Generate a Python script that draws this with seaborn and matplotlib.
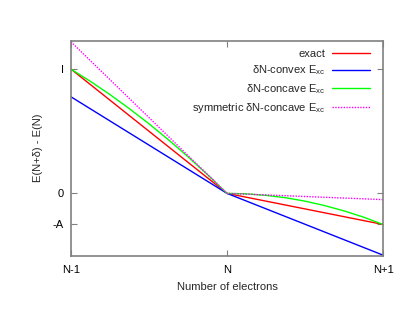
import matplotlib
matplotlib.use("Agg")
import matplotlib.pyplot as plt
import seaborn as sns
import pandas as pd

# data (x: -1 = N-1, 0 = N, 1 = N+1 ; y in units of I)
x_kink = [-1.0, 0.0, 1.0]
exact_y = [1.0, 0.0, -0.25]
convex_y = [0.777, 0.0, -0.497]
sym_concave_y = [1.22, 0.0, -0.05]
concave_x = [-1.0, -0.875, -0.75, -0.625, -0.5, -0.375, -0.25, -0.125, 0.0,
             0.125, 0.25, 0.375, 0.5, 0.625, 0.75, 0.875, 1.0]
concave_y = [1.0, 0.901, 0.795, 0.681, 0.56, 0.431, 0.295, 0.151, 0.0,
             -0.004, -0.016, -0.035, -0.0625, -0.098, -0.141, -0.191, -0.25]

xtick_vals = [-1, 0, 1]
xtick_labels = ["N-1", "N", "N+1"]
ytick_vals = [1.0, 0.0, -0.25]
ytick_labels = ["I", "0", "-A"]

labels = ["exact", "δN-convex E$_{xc}$", "δN-concave E$_{xc}$",
          "symmetric δN-concave E$_{xc}$"]

sns.set_style("white")
plt.rcParams["font.family"] = ["Liberation Sans", "DejaVu Sans"]
plt.rcParams["mathtext.default"] = "regular"
plt.rcParams["font.size"] = 8

fig = plt.figure(figsize=(4.15, 3.21), dpi=100)
ax = fig.add_axes([0.171, 0.204, 0.752, 0.669])

sns.lineplot(x=x_kink, y=exact_y, ax=ax, color="#ff0000", lw=1.0,
             label=labels[0], sort=False, estimator=None)
sns.lineplot(x=x_kink, y=convex_y, ax=ax, color="#0000ff", lw=1.0,
             label=labels[1], sort=False, estimator=None)
sns.lineplot(x=concave_x, y=concave_y, ax=ax, color="#00ff00", lw=1.0,
             label=labels[2], sort=False, estimator=None)
sns.lineplot(x=x_kink, y=sym_concave_y, ax=ax, color="#ff00ff", lw=1.0,
             linestyle=(0, (1, 1)), label=labels[3], sort=False, estimator=None)

ax.set_xlim(-1, 1)
ax.set_ylim(-0.5, 1.228)
ax.set_xticks(xtick_vals)
ax.set_xticklabels(xtick_labels)
ax.set_yticks(ytick_vals)
ax.set_yticklabels(ytick_labels)
ax.set_xlabel("Number of electrons", fontsize=8, labelpad=5)
ax.set_ylabel("E(N+δ) - E(N)", fontsize=8, labelpad=7)

for s in ax.spines.values():
    s.set_color("#808080")
    s.set_linewidth(1.2)
    s.set_visible(True)
ax.tick_params(direction="in", length=4, width=0.8, color="#808080",
               top=True, right=True, bottom=True, left=True,
               labelsize=8, labelcolor="black")
ax.tick_params(axis="x", pad=7)
ax.tick_params(axis="y", pad=5)

leg = ax.legend(loc="upper right", frameon=False, markerfirst=False,
                fontsize=8, handlelength=3.4, labelspacing=0.45,
                borderaxespad=0.3, handletextpad=0.6,
                bbox_to_anchor=(0.982, 1.0))
for t in leg.get_texts():
    t.set_ha("right")
leg._legend_box.align = "right"

fig.savefig("out.png", dpi=100)
